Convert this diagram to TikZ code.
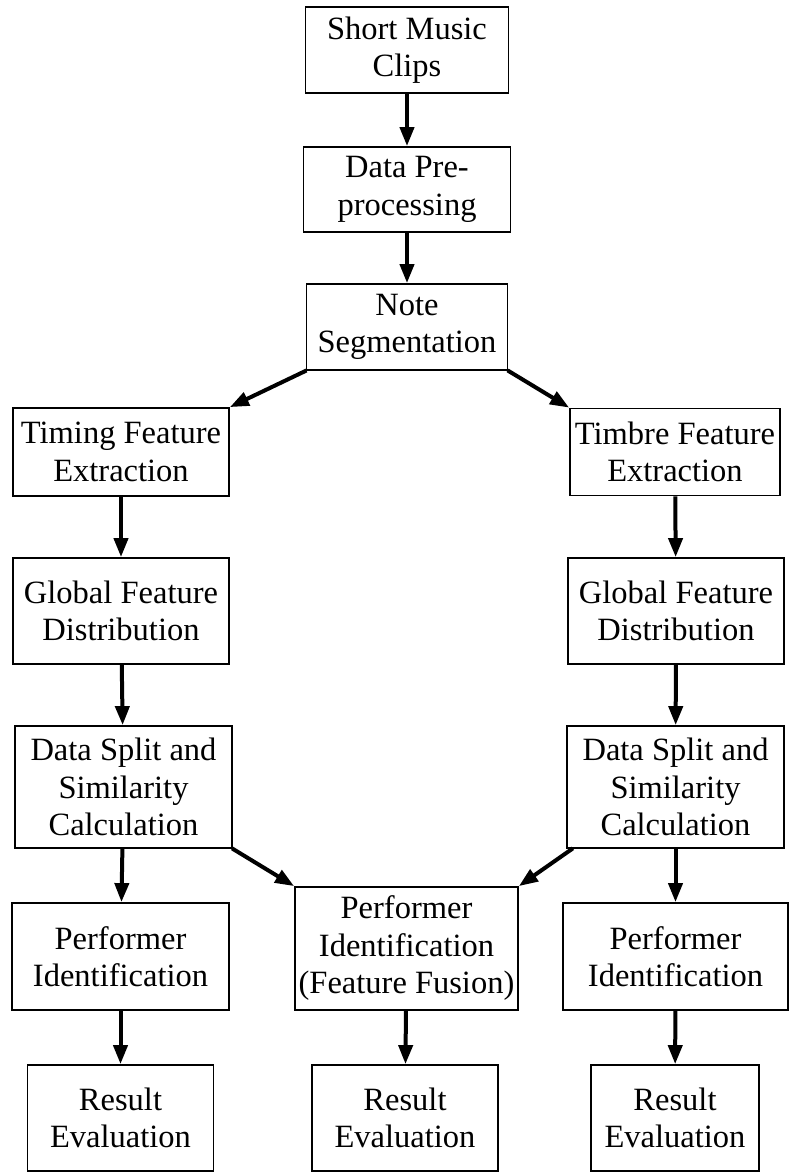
\documentclass[tikz,border=0pt]{standalone}
\usepackage{fontspec}
\setmainfont{Liberation Serif}
\usetikzlibrary{positioning,arrows.meta}

\begin{document}
\begin{tikzpicture}[%
    x=1pt, y=1pt,
    >={Triangle[length=19pt,width=14pt]}, % Solid heads as in the figure
    on grid,                              % Distances are centre to centre
    every join/.style={flow},
    ]
% -------------------------------------------------
% Box and connector styles
\tikzset{
  box/.style={draw, line width=1.8pt, align=center, inner sep=2pt,
    font=\fontsize{32.5}{37.5}\selectfont},
  flow/.style={->, line width=4pt, black},
  fork/.style={->, line width=4pt, black, shorten <=-1pt}
}
\useasboundingbox (0,0) rectangle (791,-1173);
% -------------------------------------------------
% Common trunk
\node [box, minimum width=203pt, minimum height=86pt] (clips) at (407,-50) {Short Music\\Clips};
\node [box, below=139.5pt of clips, minimum width=207pt, minimum height=85pt] (prep) {Data Pre-\\processing};
\node [box, below=137.5pt of prep, minimum width=201pt, minimum height=86pt] (seg) {Note\\Segmentation};
% Timing branch (left)
\node [box, below left=125pt and 286pt of seg, minimum width=216pt, minimum height=88pt] (timing) {Timing Feature\\Extraction};
\node [box, below=159pt of timing, minimum width=216pt, minimum height=106pt] (globL) {Global Feature\\Distribution};
\node [box, below=176pt of globL, xshift=2.5pt, minimum width=217pt, minimum height=122pt] (splitL) {Data Split and\\Similarity\\Calculation};
\node [box, below=169.5pt of splitL, xshift=-3pt, minimum width=217pt, minimum height=107pt] (perfL) {Performer\\Identification};
\node [box, below=161.5pt of perfL, minimum width=186pt, minimum height=106pt] (resL) {Result\\Evaluation};
% Timbre branch (right)
\node [box, below right=125pt and 268pt of seg, minimum width=210pt, minimum height=87pt] (timbre) {Timbre Feature\\Extraction};
\node [box, below=159pt of timbre, xshift=1pt, minimum width=216pt, minimum height=106pt] (globR) {Global Feature\\Distribution};
\node [box, below=176pt of globR, xshift=-0.5pt, minimum width=217pt, minimum height=122pt] (splitR) {Data Split and\\Similarity\\Calculation};
\node [box, below=169.5pt of splitR, minimum width=225pt, minimum height=107pt] (perfR) {Performer\\Identification};
\node [box, below=161.5pt of perfR, xshift=-0.5pt, minimum width=168pt, minimum height=106pt] (resR) {Result\\Evaluation};
% Fusion (middle)
\node [box, below right=161.5pt and 283pt of splitL, minimum width=223pt, minimum height=123pt] (fusion) {Performer\\Identification\\(Feature Fusion)};
\node [box, below=169.5pt of fusion, xshift=-1.5pt, minimum width=186pt, minimum height=106pt] (resM) {Result\\Evaluation};

% -------------------------------------------------
\draw [flow] (clips) to (prep);
\draw [flow] (prep) to (seg);
\draw [fork] (seg.south west) to (timing.north east);
\draw [fork] (seg.south east) to (timbre.north west);
\draw [flow] (timing) to (globL);
\draw [flow] (globL) to (splitL);
\draw [flow] (splitL) to (perfL);
\draw [flow] (perfL) to (resL);
\draw [flow] (timbre) to (globR);
\draw [flow] (globR) to (splitR);
\draw [flow] (splitR) to (perfR);
\draw [flow] (perfR) to (resR);
\draw [fork] (splitL.south east) to (fusion.north west);
\draw [fork] ([xshift=6pt]splitR.south west) to (fusion.north east);
\draw [flow] (fusion) to (resM);
% -------------------------------------------------
\end{tikzpicture}
\end{document}
